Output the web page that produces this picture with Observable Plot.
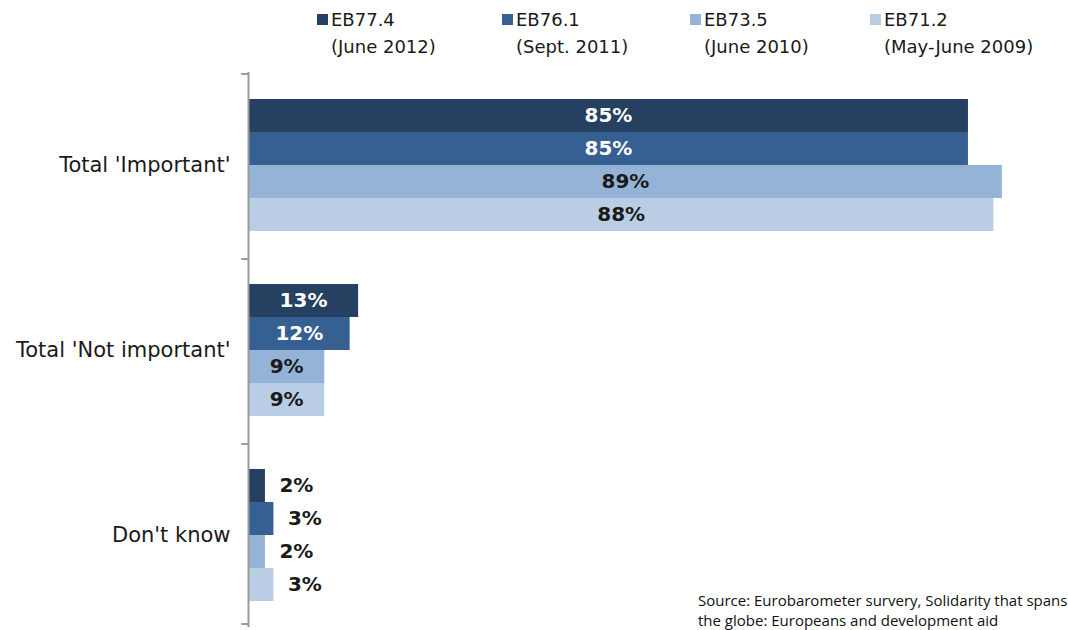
<!DOCTYPE html>
<html>
<head>
<meta charset="utf-8">
<script src="https://cdn.jsdelivr.net/npm/d3@7"></script>
<script src="https://cdn.jsdelivr.net/npm/@observablehq/plot@0.6"></script>
<style>
  html, body { margin: 0; padding: 0; background: #fff; }
  #wrap { position: relative; width: 1068px; height: 630px; overflow: hidden; font-family: "DejaVu Sans", Verdana, sans-serif; }
  #chart { position: absolute; left: 0; top: 0; }
  #legend { position: absolute; top: 6px; left: 0; width: 1068px; height: 60px; }
  .li { position: absolute; top: 0; font-size: 18px; color: #1a1a1a; line-height: 27px; white-space: nowrap; }
  .sw { display: inline-block; width: 11px; height: 11px; margin-right: 3px; vertical-align: 1px; }
  .l2 { padding-left: 14px; }
  #source { position: absolute; left: 698px; top: 590px; font-family: "Open Sans", "Liberation Sans", sans-serif; font-size: 15px; line-height: 20px; color: #111; white-space: nowrap; }
</style>
</head>
<body>
<div id="wrap">
  <div id="chart"></div>
  <div id="legend"></div>
  <div id="source">Source: Eurobarometer survery, Solidarity that spans<br>the globe: Europeans and development aid</div>
</div>
<script>
const categories = ["Total 'Important'", "Total 'Not important'", "Don't know"];
const series = ["EB77.4", "EB76.1", "EB73.5", "EB71.2"];
const seriesDates = ["(June 2012)", "(Sept. 2011)", "(June 2010)", "(May-June 2009)"];
const colors = ["#254061", "#376092", "#95b3d7", "#b9cde5"];
const valuesEB774 = [85, 13, 2];
const valuesEB761 = [85, 12, 3];
const valuesEB735 = [89, 9, 2];
const valuesEB712 = [88, 9, 3];
const allValues = [valuesEB774, valuesEB761, valuesEB735, valuesEB712];

const data = [];
categories.forEach((c, ci) => {
  series.forEach((s, si) => {
    data.push({category: c, series: s, si, value: allValues[si][ci]});
  });
});

const labelFill = d => d.value < 5 ? "#1a1a1a" : (d.si < 2 ? "#ffffff" : "#1a1a1a");

const chart = Plot.plot({
  width: 1068,
  height: 630,
  marginTop: 72,
  marginBottom: 3,
  marginLeft: 248,
  marginRight: 20,
  style: {fontFamily: "DejaVu Sans, Verdana, sans-serif", fontSize: "21px", color: "#1a1a1a", background: "#fff"},
  x: {domain: [0, 94.45], axis: null},
  y: {domain: series, axis: null, paddingInner: 0, paddingOuter: 0.75},
  fy: {domain: categories, label: null, padding: 0, tickSize: 0, tickPadding: 18, axis: "left"},
  color: {domain: series, range: colors},
  marks: [
    Plot.barX(data, {fy: "category", y: "series", x: "value", fill: "series"}),
    Plot.text(data.filter(d => d.value >= 5), {
      fy: "category", y: "series", x: d => d.value / 2, text: d => d.value + "%",
      fill: labelFill, fontWeight: "bold", fontSize: 20, letterSpacing: 1
    }),
    Plot.text(data.filter(d => d.value < 5), {
      fy: "category", y: "series", x: "value", text: d => d.value + "%",
      fill: labelFill, fontWeight: "bold", fontSize: 20, letterSpacing: 1, textAnchor: "start", dx: 14
    }),
    Plot.ruleX([0], {stroke: "#9a9a9a", strokeWidth: 2}),
    Plot.ruleY(categories, {fy: d => d, y: () => series[0], x1: -0.8, x2: 0, stroke: "#9a9a9a", strokeWidth: 2, dy: -42}),
    Plot.ruleY([categories[categories.length - 1]], {fy: d => d, y: () => series[series.length - 1], x1: -0.8, x2: 0, stroke: "#9a9a9a", strokeWidth: 2, dy: 39})
  ]
});
document.getElementById("chart").appendChild(chart);

const legend = document.getElementById("legend");
const lefts = [317, 502, 690, 870];
series.forEach((s, i) => {
  const div = document.createElement("div");
  div.className = "li";
  div.style.left = lefts[i] + "px";
  div.innerHTML = `<span class="sw" style="background:${colors[i]}"></span>${s}<br><span class="l2">${seriesDates[i]}</span>`;
  legend.appendChild(div);
});
</script>
</body>
</html>
